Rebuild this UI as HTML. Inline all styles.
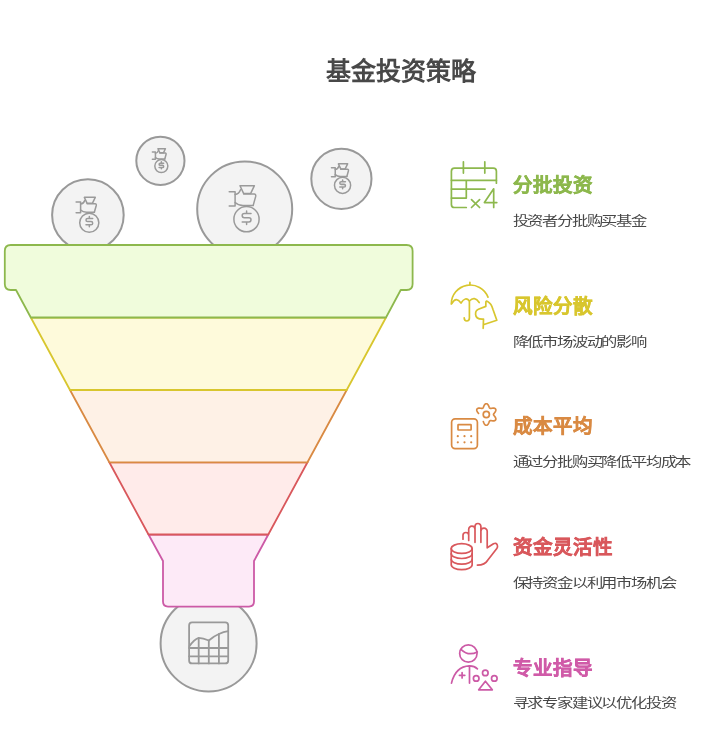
<!DOCTYPE html>
<html lang="zh-CN">
<head>
<meta charset="utf-8">
<style>
html,body{margin:0;padding:0;background:#fff;}
body{width:714px;height:735px;overflow:hidden;font-family:"Liberation Sans",sans-serif;}
svg{display:block;will-change:transform;}
text{font-family:"Liberation Sans",sans-serif;}
.h{font-size:19.5px;font-weight:bold;stroke-width:0.5;}
.d{font-size:12.7px;letter-spacing:-1.5px;fill:#484848;}
</style>
</head>
<body>
<svg width="714" height="735" viewBox="0 0 714 735">
<defs>
<g id="bag" fill="none" stroke="#9a9a9a" stroke-linecap="round" stroke-linejoin="round">
<path d="M240 185.7 H254.4 L250.6 193.6 H243.7 Z"/>
<path d="M229.2 191.8 H235.1 V205.9 H229.2"/>
<path d="M235.1 194.5 Q239 194.2 240.5 189.8"/>
<path d="M243.7 194.1 H254.2 Q256 194.1 255.7 196.4 L253.2 205.4"/>
<path d="M235.1 202.5 Q238 205.4 243 205.4 H253.2"/>
<circle cx="246.5" cy="219.2" r="12.6"/>
<path d="M251 213.5 H244.3 Q242.2 213.5 242.2 215.6 Q242.2 217.7 244.3 217.7 H248.9 Q251 217.7 251 219.8 Q251 221.9 248.9 221.9 H242.2 M246.6 210.9 V213.5 M246.6 221.9 V224.6"/>
</g>
</defs>

<text x="401" y="80" text-anchor="middle" font-size="25" font-weight="bold" fill="#484848">基金投资策略</text>

<g fill="#f3f3f3" stroke="#999999" stroke-width="2">
<circle cx="87.9" cy="215" r="35.8"/>
<circle cx="160.4" cy="160.8" r="24.1"/>
<circle cx="244.7" cy="209" r="47.5"/>
<circle cx="341.4" cy="178.8" r="30.1"/>
<circle cx="208.6" cy="643.4" r="48"/>
</g>
<use href="#bag" stroke-width="1.5"/>
<use href="#bag" stroke-width="2" transform="translate(87.9 215) scale(0.759) translate(-244.7 -209)"/>
<use href="#bag" stroke-width="2.9" transform="translate(160.4 160.8) scale(0.517) translate(-244.7 -209)"/>
<use href="#bag" stroke-width="2.35" transform="translate(341.4 178.8) scale(0.641) translate(-244.7 -209)"/>

<g fill="none" stroke="#999999" stroke-width="1.8" stroke-linejoin="round" stroke-linecap="round">
<rect x="189.1" y="622.4" width="39.1" height="41" rx="3"/>
<path d="M189.1 648 H228.2 M189.1 656.3 H228.2"/>
<path d="M198.7 638.5 V663.4 M208.8 640.6 V663.4 M218.9 634 V663.4"/>
<path d="M189.4 646.3 Q194 639.5 198.7 637.9 Q203 638 208.8 640.5 Q214 636 218.9 634 Q223.5 631.6 228.2 631.1"/>
</g>

<g stroke-width="1.8" stroke-linejoin="round">
<path d="M148.5 534.5 L163 561 L163 601.6 Q163 606.6 168 606.6 L249 606.6 Q254 606.6 254 601.6 L254 561 L268.3 534.5 Z" fill="#fdeaf7" stroke="#cc5aa6"/>
<path d="M109.3 462.3 L148.5 534.5 L268.3 534.5 L307.5 462.3 Z" fill="#ffebea" stroke="#d9585c"/>
<path d="M70 390 L109.3 462.3 L307.5 462.3 L346.7 390 Z" fill="#fef1e6" stroke="#d98a43"/>
<path d="M30.8 317.5 L70 390 L346.7 390 L386 317.5 Z" fill="#fefadb" stroke="#d8c62e"/>
<path d="M11 245 L406.6 245 Q412.6 245 412.6 251 L412.6 284 Q412.6 290 406.6 290 L400.7 290 L386 317.5 L30.8 317.5 L16 290 L10.8 290 Q4.8 290 4.8 284 L4.8 251 Q4.8 245 10.8 245 Z" fill="#f0fcdc" stroke="#8db84d"/>
</g>

<g fill="none" stroke="#8db84d" stroke-width="1.7" stroke-linecap="round" stroke-linejoin="round">
<path d="M496.4 183.2 V171.2 Q496.4 168.1 493.3 168.1 H454.5 Q451.4 168.1 451.4 171.2 V204.4 Q451.4 207.5 454.5 207.5 H466.3"/>
<path d="M463.4 161.8 V173.1 M484.8 161.8 V173.1"/>
<path d="M451.4 180.3 H496.4 M451.4 189.1 H485.1 M451.4 198.1 H466.3 M466.3 180.3 V198.1"/>
<path d="M471.5 199.6 L479.6 207.5 M479.6 199.6 L471.5 207.5"/>
<path d="M493.7 207.4 V188.8 L484.4 202.6 H496.8"/>
</g>

<g fill="none" stroke="#d8c62e" stroke-width="1.7" stroke-linecap="round" stroke-linejoin="round">
<path d="M451.3 303.9 A19 19 0 0 1 488 297.1"/>
<path d="M469.9 282.4 V284.8"/>
<path d="M451.8 303.5 Q456 296 461 303 Q465.5 296 469.4 301 Q474.5 295.5 479.2 302.5"/>
<path d="M469.4 301.5 V318.1 Q469.4 321 466.8 321 Q464.2 321 464.2 317.8"/>
<path d="M483.2 328.3 L483.5 319 Q476 319.5 475.6 314.6 Q475.3 310.5 478.4 309.3 L485.8 306.4 L485.9 301.8 Q486.3 300.8 487.6 301.4 Q491.5 303.5 493 309.5 L496.8 320.2 L484 324.5"/>
</g>

<g fill="none" stroke="#d98a43" stroke-width="1.7" stroke-linecap="round" stroke-linejoin="round">
<rect x="451.6" y="418.8" width="25.8" height="29.8" rx="3.5"/>
<rect x="458" y="424.7" width="13.1" height="5.3" rx="0.5"/>
<circle cx="486.3" cy="414.5" r="3.1"/>
<path d="M478.58 413.42 L478.04 412.74 L477.47 411.97 L477.00 411.11 L476.75 410.25 L476.80 409.45 L477.17 408.80 L477.84 408.35 L478.72 408.14 L479.69 408.12 L480.65 408.23 L481.50 408.36 L482.19 408.40 L482.70 408.26 L483.08 407.89 L483.38 407.27 L483.69 406.47 L484.08 405.58 L484.58 404.75 L485.21 404.10 L485.92 403.75 L486.68 403.75 L487.39 404.10 L488.02 404.75 L488.52 405.58 L488.91 406.47 L489.22 407.27 L489.52 407.89 L489.90 408.26 L490.41 408.40 L491.10 408.36 L491.95 408.23 L492.91 408.12 L493.88 408.14 L494.76 408.35 L495.43 408.80 L495.80 409.45 L495.85 410.25 L495.60 411.11 L495.13 411.97 L494.56 412.74 L494.02 413.42 L493.64 413.99 L493.50 414.50 L493.64 415.01 L494.02 415.58 L494.56 416.26 L495.13 417.03 L495.60 417.89 L495.85 418.75 L495.80 419.55 L495.43 420.20 L494.76 420.65 L493.88 420.86 L492.91 420.88 L491.95 420.77 L491.10 420.64 L490.41 420.60 L489.90 420.74 L489.52 421.11 L489.22 421.73 L488.91 422.53 L488.52 423.42 L488.02 424.25 L487.39 424.90 L486.68 425.25 L485.92 425.25 L485.21 424.90 L484.58 424.25 L484.08 423.42 L483.69 422.53 L483.38 421.73 L483.31 421.55"/>
</g>
<g fill="#d98a43">
<circle cx="457.8" cy="436.2" r="1.1"/><circle cx="464.5" cy="436.2" r="1.1"/><circle cx="471.2" cy="436.2" r="1.1"/>
<circle cx="457.8" cy="442.3" r="1.1"/><circle cx="464.5" cy="442.3" r="1.1"/><circle cx="471.2" cy="442.3" r="1.1"/>
</g>

<g fill="none" stroke="#d9585c" stroke-width="1.7" stroke-linecap="round" stroke-linejoin="round">
<ellipse cx="461.7" cy="548.55" rx="10.45" ry="4.85"/>
<path d="M451.25 548.55 V564.75 A10.45 4.85 0 0 0 472.15 564.75 V548.55"/>
<path d="M451.25 553.65 A10.45 4.85 0 0 0 472.15 553.65"/>
<path d="M451.25 559.25 A10.45 4.85 0 0 0 472.15 559.25"/>
<path d="M463 539.2 V535.35 A2.85 2.85 0 0 1 468.7 535.35 V540.4 M468.7 535.35 V529.35 A3.15 3.15 0 0 1 475 529.35 V542.3 M475 529.35 V526.45 A2.95 2.95 0 0 1 480.9 526.45 V542.3 M480.9 531.35 A3.15 3.15 0 0 1 487.2 531.35 V547.8 L493.5 543.8 Q496.2 542.3 497.3 545 Q498 546.8 496.8 548.6 L487.5 560.5 Q485 565.1 477.4 565.1"/>
</g>

<g fill="none" stroke="#cc5aa6" stroke-width="1.7" stroke-linecap="round" stroke-linejoin="round">
<circle cx="468.35" cy="653.5" r="8.7"/>
<path d="M460.9 649.3 Q468.5 656.6 477.3 651.9"/>
<path d="M451.5 683.1 Q455.5 666.4 469.5 665.9 Q474.5 665.9 477.4 668.9"/>
<path d="M469.5 665.9 V683.1"/>
<path d="M462.1 672.6 V678 M459.4 675.3 H464.8"/>
<circle cx="476.2" cy="678.4" r="2.8"/>
<circle cx="485.3" cy="672.9" r="2.8"/>
<circle cx="494.3" cy="678.4" r="2.8"/>
<path d="M485.4 681.2 L492.3 689.8 H478.7 Z"/>
</g>

<text class="h" x="512.5" y="192.2" fill="#8db84d" stroke="#8db84d">分批投资</text>
<text class="d" transform="translate(512.5 225.0) scale(1.286 1)">投资者分批购买基金</text>
<text class="h" x="512.5" y="312.8" fill="#d8c62e" stroke="#d8c62e">风险分散</text>
<text class="d" transform="translate(512.5 345.6) scale(1.286 1)">降低市场波动的影响</text>
<text class="h" x="512.5" y="433.4" fill="#d98a43" stroke="#d98a43">成本平均</text>
<text class="d" transform="translate(512.5 466.2) scale(1.286 1)">通过分批购买降低平均成本</text>
<text class="h" x="512.5" y="554.0" fill="#d9585c" stroke="#d9585c">资金灵活性</text>
<text class="d" transform="translate(512.5 586.8) scale(1.286 1)">保持资金以利用市场机会</text>
<text class="h" x="512.5" y="674.6" fill="#d05ba8" stroke="#d05ba8">专业指导</text>
<text class="d" transform="translate(512.5 707.4) scale(1.286 1)">寻求专家建议以优化投资</text>
</svg>
</body>
</html>
